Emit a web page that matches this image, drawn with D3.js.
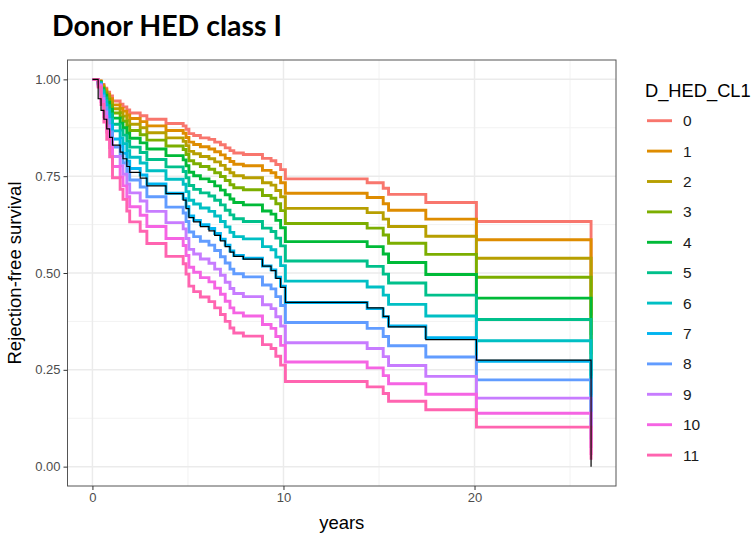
<!DOCTYPE html>
<html><head><meta charset="utf-8">
<script src="https://cdn.jsdelivr.net/npm/d3@7"></script>
<style>body{margin:0;background:#fff}svg{display:block}</style>
</head><body>
<svg id="c" width="756" height="534"></svg>
<script>
// ---- data ----
const times = [0, 0.30, 0.45, 0.60, 0.75, 0.90, 1.05, 1.45, 1.60, 1.80, 1.95, 2.50, 2.85, 3.85, 4.75, 4.90, 5.05, 5.30, 5.65, 6.10, 6.40, 6.70, 6.95, 7.20, 7.40, 7.90, 8.90, 9.35, 9.60, 9.85, 10.10, 14.38, 15.22, 15.50, 17.45, 20.10, 26.10];
const groupNames = ["0","1","2","3","4","5","6","7","8","9","10","11"];
const groupColors = ["#F8766D","#DE8C00","#B79F00","#7CAE00","#00BA38","#00C08B","#00BFC4","#00B4F0","#619CFF","#C77CFF","#F564E3","#FF64B0"];
const s0  = [1, 0.996, 0.987, 0.977, 0.967, 0.957, 0.944, 0.936, 0.929, 0.921, 0.913, 0.906, 0.897, 0.886, 0.880, 0.871, 0.860, 0.855, 0.849, 0.845, 0.838, 0.831, 0.823, 0.816, 0.810, 0.806, 0.796, 0.790, 0.780, 0.767, 0.743, 0.733, 0.719, 0.703, 0.682, 0.633, 0.45];
const s1  = [1, 0.995, 0.985, 0.973, 0.962, 0.950, 0.934, 0.925, 0.918, 0.908, 0.899, 0.891, 0.880, 0.868, 0.861, 0.850, 0.838, 0.832, 0.826, 0.820, 0.813, 0.805, 0.796, 0.788, 0.781, 0.777, 0.765, 0.759, 0.747, 0.733, 0.706, 0.695, 0.679, 0.662, 0.639, 0.586, 0.39];
const s2  = [1, 0.995, 0.982, 0.969, 0.956, 0.942, 0.924, 0.914, 0.905, 0.894, 0.884, 0.875, 0.862, 0.849, 0.840, 0.829, 0.814, 0.808, 0.801, 0.795, 0.787, 0.778, 0.768, 0.759, 0.751, 0.746, 0.733, 0.727, 0.713, 0.697, 0.667, 0.656, 0.639, 0.620, 0.595, 0.538, 0.34];
const s3  = [1, 0.994, 0.979, 0.965, 0.949, 0.933, 0.913, 0.902, 0.892, 0.880, 0.868, 0.857, 0.843, 0.828, 0.819, 0.806, 0.790, 0.782, 0.775, 0.768, 0.759, 0.749, 0.739, 0.728, 0.720, 0.715, 0.700, 0.693, 0.679, 0.661, 0.628, 0.616, 0.598, 0.577, 0.548, 0.489, 0.29];
const s4  = [1, 0.993, 0.976, 0.959, 0.941, 0.923, 0.900, 0.887, 0.875, 0.861, 0.848, 0.836, 0.820, 0.803, 0.792, 0.777, 0.760, 0.751, 0.743, 0.736, 0.725, 0.714, 0.702, 0.691, 0.682, 0.676, 0.660, 0.652, 0.636, 0.617, 0.581, 0.568, 0.549, 0.527, 0.496, 0.435, 0.235];
const s5  = [1, 0.992, 0.972, 0.952, 0.932, 0.911, 0.884, 0.869, 0.856, 0.840, 0.825, 0.811, 0.793, 0.774, 0.762, 0.746, 0.726, 0.716, 0.707, 0.699, 0.688, 0.676, 0.662, 0.650, 0.640, 0.633, 0.616, 0.607, 0.590, 0.570, 0.531, 0.517, 0.497, 0.474, 0.443, 0.380, 0.185];
const s6  = [1, 0.990, 0.968, 0.945, 0.921, 0.897, 0.867, 0.849, 0.834, 0.816, 0.799, 0.784, 0.764, 0.742, 0.729, 0.710, 0.688, 0.678, 0.668, 0.659, 0.647, 0.633, 0.619, 0.605, 0.594, 0.588, 0.568, 0.560, 0.541, 0.519, 0.479, 0.464, 0.443, 0.419, 0.389, 0.325, 0.14];
const s7  = [1, 0.989, 0.962, 0.936, 0.908, 0.881, 0.846, 0.827, 0.809, 0.789, 0.770, 0.753, 0.730, 0.706, 0.692, 0.671, 0.647, 0.636, 0.625, 0.615, 0.602, 0.587, 0.572, 0.557, 0.545, 0.538, 0.518, 0.508, 0.489, 0.466, 0.424, 0.408, 0.387, 0.363, 0.333, 0.272, 0.10];
const s8  = [1, 0.987, 0.957, 0.927, 0.896, 0.864, 0.825, 0.803, 0.784, 0.762, 0.740, 0.722, 0.697, 0.670, 0.655, 0.633, 0.606, 0.594, 0.582, 0.572, 0.558, 0.542, 0.526, 0.510, 0.498, 0.490, 0.469, 0.459, 0.439, 0.416, 0.372, 0.357, 0.336, 0.312, 0.283, 0.224, 0.07];
const s9  = [1, 0.985, 0.950, 0.916, 0.880, 0.845, 0.801, 0.777, 0.755, 0.730, 0.707, 0.686, 0.659, 0.630, 0.614, 0.589, 0.561, 0.549, 0.536, 0.525, 0.510, 0.494, 0.476, 0.460, 0.447, 0.439, 0.418, 0.408, 0.387, 0.363, 0.320, 0.305, 0.284, 0.261, 0.233, 0.177, 0.048];
const s10 = [1, 0.983, 0.943, 0.904, 0.864, 0.824, 0.775, 0.748, 0.725, 0.697, 0.671, 0.649, 0.620, 0.589, 0.571, 0.545, 0.515, 0.502, 0.488, 0.477, 0.461, 0.445, 0.427, 0.410, 0.397, 0.389, 0.367, 0.357, 0.336, 0.313, 0.270, 0.255, 0.235, 0.214, 0.187, 0.138, 0.03];
const s11 = [1, 0.980, 0.935, 0.890, 0.845, 0.800, 0.746, 0.716, 0.690, 0.660, 0.632, 0.608, 0.576, 0.543, 0.524, 0.497, 0.466, 0.452, 0.438, 0.426, 0.410, 0.393, 0.375, 0.358, 0.345, 0.337, 0.315, 0.305, 0.285, 0.262, 0.220, 0.206, 0.189, 0.169, 0.147, 0.102, 0.018];
const overall = [1, 0.950, 0.920, 0.897, 0.872, 0.850, 0.830, 0.812, 0.795, 0.775, 0.760, 0.745, 0.725, 0.705, 0.688, 0.666, 0.643, 0.632, 0.620, 0.609, 0.597, 0.583, 0.568, 0.554, 0.543, 0.536, 0.518, 0.506, 0.486, 0.463, 0.424, 0.410, 0.388, 0.361, 0.328, 0.275, 0];
const groupSeries = [s0, s1, s2, s3, s4, s5, s6, s7, s8, s9, s10, s11];
const yTicks = [0, 0.25, 0.5, 0.75, 1];
const yMinor = [0.125, 0.375, 0.625, 0.875];
const xTicks = [0, 10, 20];
const xMinor = [5, 15, 25];
const titleText = "Donor HED class I";
const xLabel = "years";
const yLabel = "Rejection-free survival";
const legendTitle = "D_HED_CL1";

// ---- drawing ----
const svg = d3.select("#c");
const P = {l: 67.5, r: 616, t: 60, b: 486};
const tMax = 26.1;
const x = d3.scaleLinear().domain([-0.05 * tMax, 1.05 * tMax]).range([P.l, P.r]);
const y = d3.scaleLinear().domain([-0.05, 1.05]).range([P.b, P.t]);
const font = "'Liberation Sans', Arial, sans-serif";

// title
const title = svg.append("text").attr("x", 52).attr("y", 36)
  .attr("font-family", "Lato, 'Open Sans', sans-serif").attr("font-weight", 700)
  .attr("font-size", 26).attr("fill", "#000").text(titleText);
const tw = title.node().getComputedTextLength();
title.attr("font-size", 26 * 230 / tw);

// panel background + grid
svg.append("rect").attr("x", P.l).attr("y", P.t).attr("width", P.r - P.l).attr("height", P.b - P.t).attr("fill", "#fff");
const grid = svg.append("g");
grid.selectAll(".ym").data(yMinor).join("line")
  .attr("x1", P.l).attr("x2", P.r).attr("y1", d => y(d)).attr("y2", d => y(d))
  .attr("stroke", "#F2F2F2").attr("stroke-width", 1);
grid.selectAll(".xm").data(xMinor).join("line")
  .attr("y1", P.t).attr("y2", P.b).attr("x1", d => x(d)).attr("x2", d => x(d))
  .attr("stroke", "#F2F2F2").attr("stroke-width", 1);
grid.selectAll(".yM").data(yTicks).join("line")
  .attr("x1", P.l).attr("x2", P.r).attr("y1", d => y(d)).attr("y2", d => y(d))
  .attr("stroke", "#EBEBEB").attr("stroke-width", 1.5);
grid.selectAll(".xM").data(xTicks).join("line")
  .attr("y1", P.t).attr("y2", P.b).attr("x1", d => x(d)).attr("x2", d => x(d))
  .attr("stroke", "#EBEBEB").attr("stroke-width", 1.5);

// curves
const line = d3.line().x(d => x(d[0])).y(d => y(d[1])).curve(d3.curveStepAfter);
const clip = svg.append("clipPath").attr("id", "pc").append("rect")
  .attr("x", P.l).attr("y", P.t).attr("width", P.r - P.l).attr("height", P.b - P.t);
const curves = svg.append("g").attr("clip-path", "url(#pc)");
groupSeries.forEach((s, i) => {
  curves.append("path").datum(times.map((t, j) => [t, s[j]]))
    .attr("d", line).attr("fill", "none").attr("stroke", groupColors[i])
    .attr("stroke-width", 2.9).attr("stroke-linejoin", "miter");
});
curves.append("path").datum(times.map((t, j) => [t, overall[j]]))
  .attr("d", line).attr("fill", "none").attr("stroke", "#000")
  .attr("stroke-width", 1.2);

// panel border
svg.append("rect").attr("x", P.l).attr("y", P.t).attr("width", P.r - P.l).attr("height", P.b - P.t)
  .attr("fill", "none").attr("stroke", "#555").attr("stroke-width", 1);

// axes
const yAxis = svg.append("g").attr("transform", `translate(${P.l},0)`)
  .call(d3.axisLeft(y).tickValues(yTicks).tickFormat(d3.format(".2f")).tickSize(4).tickPadding(3));
const xAxis = svg.append("g").attr("transform", `translate(0,${P.b})`)
  .call(d3.axisBottom(x).tickValues(xTicks).tickFormat(d3.format("d")).tickSize(4).tickPadding(3));
[yAxis, xAxis].forEach(a => {
  a.select(".domain").remove();
  a.selectAll("line").attr("stroke", "#333");
  a.selectAll("text").attr("fill", "#4D4D4D").attr("font-family", font).attr("font-size", 13);
});

// axis titles
svg.append("text").attr("x", (P.l + P.r) / 2).attr("y", 529).attr("text-anchor", "middle")
  .attr("font-family", font).attr("font-size", 18.5).attr("fill", "#000").text(xLabel);
svg.append("text").attr("transform", `translate(21,${(P.t + P.b) / 2}) rotate(-90)`)
  .attr("text-anchor", "middle").attr("font-family", font).attr("font-size", 18.5)
  .attr("fill", "#000").text(yLabel);

// legend
const lg = svg.append("g");
lg.append("text").attr("x", 645).attr("y", 97).attr("font-family", font).attr("font-size", 18.3)
  .attr("fill", "#000").text(legendTitle);
groupNames.forEach((n, i) => {
  const cy = 120.7 + i * 30.4;
  lg.append("line").attr("x1", 647).attr("x2", 672).attr("y1", cy).attr("y2", cy)
    .attr("stroke", groupColors[i]).attr("stroke-width", 2.9);
  lg.append("text").attr("x", 683).attr("y", cy).attr("dy", "0.36em")
    .attr("font-family", font).attr("font-size", 15.5).attr("fill", "#1A1A1A").text(n);
});
</script>
</body></html>
